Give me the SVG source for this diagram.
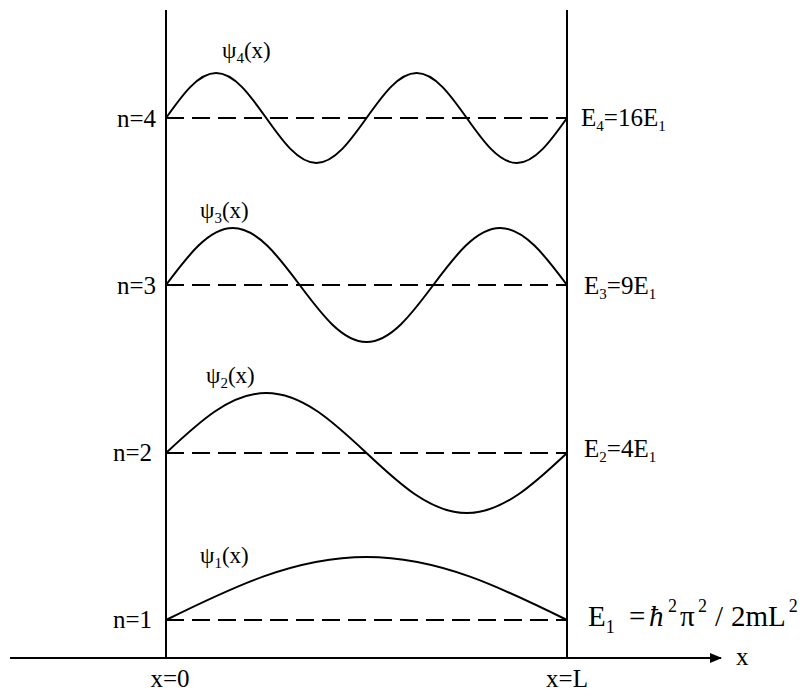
<svg xmlns="http://www.w3.org/2000/svg" width="806" height="691" viewBox="0 0 806 691">
<style>
  text { font-family: "Liberation Serif", "Times New Roman", serif; fill: #000; }
  .lbl { font-size: 25px; }
  .psi { font-size: 23px; }
  .sub { font-size: 15px; }
  .big { font-size: 29px; }
  .sm { font-size: 18px; }
  .wall { stroke: #000; stroke-width: 2; fill: none; }
  .dash { stroke: #000; stroke-width: 2; stroke-dasharray: 18 8; fill: none; }
  .wave { stroke: #000; stroke-width: 2; fill: none; }
</style>
<defs>
  <marker id="arr" viewBox="0 0 12 10" refX="11" refY="5" markerWidth="12" markerHeight="10" markerUnits="userSpaceOnUse" orient="auto">
    <path d="M0,0 L12,5 L0,10 Z" fill="#000"/>
  </marker>
</defs>
<rect width="806" height="691" fill="#fff"/>
<g id="connectors">
  <line class="wall" x1="10" y1="658" x2="721" y2="658" marker-end="url(#arr)"/>
  <line class="wall" x1="166" y1="10" x2="166" y2="658"/>
  <line class="wall" x1="567" y1="10" x2="567" y2="658"/>
  <line class="dash" x1="166" y1="118" x2="567" y2="118"/>
  <line class="dash" x1="166" y1="285" x2="567" y2="285"/>
  <line class="dash" x1="166" y1="453" x2="567" y2="453"/>
  <line class="dash" x1="166" y1="620" x2="567" y2="620"/>
</g>
<g id="psi4">
  <path class="wave" d="M166,118 C182.4,94.9 198.1,73 216.1,73 C234.2,73 249.9,94.9 266.25,118 C282.6,141.1 298.3,163 316.4,163 C334.4,163 350.1,141.1 366.5,118 C382.9,94.9 398.6,73 416.6,73 C434.7,73 450.4,94.9 466.75,118 C483.1,141.1 498.8,163 516.9,163 C534.9,163 550.6,141.1 567,118"/>
  <text class="psi" x="222" y="58">ψ<tspan class="sub" dy="5">4</tspan><tspan dy="-5">(x)</tspan></text>
  <text class="lbl" x="156" y="127" text-anchor="end">n=4</text>
  <text class="lbl" x="581" y="126">E<tspan class="sub" dy="5">4</tspan><tspan dy="-5">=16E</tspan><tspan class="sub" dy="5">1</tspan></text>
</g>
<g id="psi3">
  <path class="wave" d="M166,285 C187.8,255.8 208.75,228 232.8,228 C256.9,228 277.9,255.8 299.7,285 C321.5,314.2 342.4,342 366.5,342 C390.6,342 411.5,314.2 433.3,285 C455.1,255.8 476.1,228 500.2,228 C524.2,228 545.2,255.8 567,285"/>
  <text class="psi" x="200" y="218">ψ<tspan class="sub" dy="5">3</tspan><tspan dy="-5">(x)</tspan></text>
  <text class="lbl" x="156" y="294" text-anchor="end">n=3</text>
  <text class="lbl" x="584" y="294">E<tspan class="sub" dy="5">3</tspan><tspan dy="-5">=9E</tspan><tspan class="sub" dy="5">1</tspan></text>
</g>
<g id="psi2">
  <path class="wave" d="M166,453 C198.7,422.3 230.1,393 266.25,393 C302.4,393 333.8,422.3 366.5,453 C399.2,483.75 430.6,513 466.75,513 C502.9,513 534.3,483.75 567,453"/>
  <text class="psi" x="206" y="383">ψ<tspan class="sub" dy="5">2</tspan><tspan dy="-5">(x)</tspan></text>
  <text class="lbl" x="152" y="461" text-anchor="end">n=2</text>
  <text class="lbl" x="584" y="457">E<tspan class="sub" dy="5">2</tspan><tspan dy="-5">=4E</tspan><tspan class="sub" dy="5">1</tspan></text>
</g>
<g id="psi1">
  <path class="wave" d="M166,620 C231.4,587.7 294.3,557 366.5,557 C438.7,557 501.6,587.7 567,620"/>
  <text class="psi" x="200" y="563">ψ<tspan class="sub" dy="5">1</tspan><tspan dy="-5">(x)</tspan></text>
  <text class="lbl" x="152" y="628" text-anchor="end">n=1</text>
  <text class="big" x="588" y="626">E<tspan class="sm" dy="7">1</tspan></text>
  <text class="big" x="629" y="626">=</text>
  <text class="big" x="649" y="626" font-style="italic">ħ</text>
  <text class="sm" x="668" y="612">2</text>
  <text class="big" x="680" y="626">π</text>
  <text class="sm" x="698" y="612">2</text>
  <text class="big" x="715" y="626">/</text>
  <text class="big" x="731" y="626">2mL<tspan class="sm" dx="3" dy="-14">2</tspan></text>
</g>
<g id="axis-labels">
  <text class="lbl" x="170" y="687" text-anchor="middle">x=0</text>
  <text class="lbl" x="567" y="687" text-anchor="middle">x=L</text>
  <text class="lbl" x="736" y="665">x</text>
</g>
</svg>
